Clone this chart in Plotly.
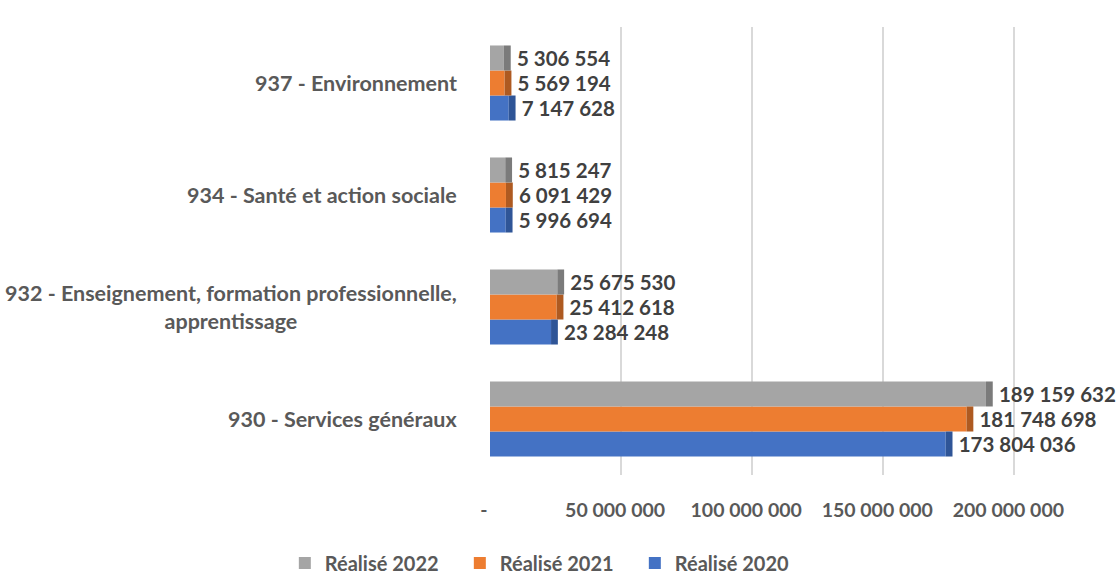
import plotly.graph_objects as go

categories = ["930 - Services généraux",
              "932 - Enseignement, formation professionnelle,<br>apprentissage",
              "934 - Santé et action sociale",
              "937 - Environnement"]
cat_keys = ["930", "932", "934", "937"]
realise_2020 = [173804036, 23284248, 5996694, 7147628]
realise_2021 = [181748698, 25412618, 6091429, 5569194]
realise_2022 = [189159632, 25675530, 5815247, 5306554]
series_names = ["Réalisé 2020", "Réalisé 2021", "Réalisé 2022"]
series_colors = ["#4472C4", "#ED7D31", "#A5A5A5"]
side_colors = ["#2F5597", "#AE5A21", "#7B7B7B"]
tick_vals = [0, 50000000, 100000000, 150000000, 200000000]
tick_text = ["-", "50 000 000", "100 000 000", "150 000 000", "200 000 000"]

FONT = "Lato"
TXT = "#404040"
AX = "#595959"
DEPTH = 2600000  # visual depth of the pseudo-3D side face (style)

series = [realise_2020, realise_2021, realise_2022]

fig = go.Figure()
for name, vals, col in zip(series_names, series, series_colors):
    fig.add_trace(go.Bar(
        y=cat_keys, x=vals, name=name, orientation="h", offsetgroup=name,
        marker=dict(color=col, line=dict(width=0)),
        text=vals, texttemplate="\u00a0\u00a0%{x:,.0f}", textposition="outside",
        textfont=dict(family=FONT, size=20.5, color=TXT, weight="bold"),
        constraintext="none", cliponaxis=False,
    ))
for name, vals, col in zip(series_names, series, side_colors):
    fig.add_trace(go.Bar(
        y=cat_keys, x=[DEPTH] * len(vals), base=vals, orientation="h",
        offsetgroup=name, showlegend=False, hoverinfo="skip",
        marker=dict(color=col, line=dict(width=0)),
    ))

for i, lab in enumerate(categories):
    fig.add_annotation(x=0, xref="paper", y=i, yref="y", text=lab,
                       xanchor="right", yanchor="middle", xshift=-31, align="center",
                       showarrow=False,
                       font=dict(family=FONT, size=21.5, color=AX, weight="bold"))

fig.update_layout(
    width=1117, height=574,
    margin=dict(l=490, r=3, t=27, b=99, autoexpand=False),
    paper_bgcolor="white", plot_bgcolor="white",
    barmode="group", bargap=0.33, bargroupgap=0,
    separators=", ",
    font=dict(family=FONT, color=AX),
    showlegend=True,
    legend=dict(orientation="h", traceorder="reversed",
                xref="container", yref="container", x=0.49, xanchor="center",
                y=0.019, yanchor="middle", entrywidth=130,
                font=dict(family=FONT, size=20, color=AX, weight="bold")),
    xaxis=dict(range=[0, 238000000], tickvals=tick_vals, ticktext=tick_text,
               showgrid=True, gridcolor="#D9D9D9", gridwidth=1.5, zeroline=False,
               showline=False, ticklabelstandoff=21, ticklabelshift=-6,
               tickfont=dict(family=FONT, size=19.5, color=AX, weight="bold")),
    yaxis=dict(type="category", categoryorder="array", categoryarray=cat_keys,
               range=[-0.5, 3.5],
               showticklabels=False, showgrid=False, zeroline=False, showline=False),
)

fig.write_html("out.html", config={"displayModeBar": False},
               post_script="document.body.style.margin='0px';")
